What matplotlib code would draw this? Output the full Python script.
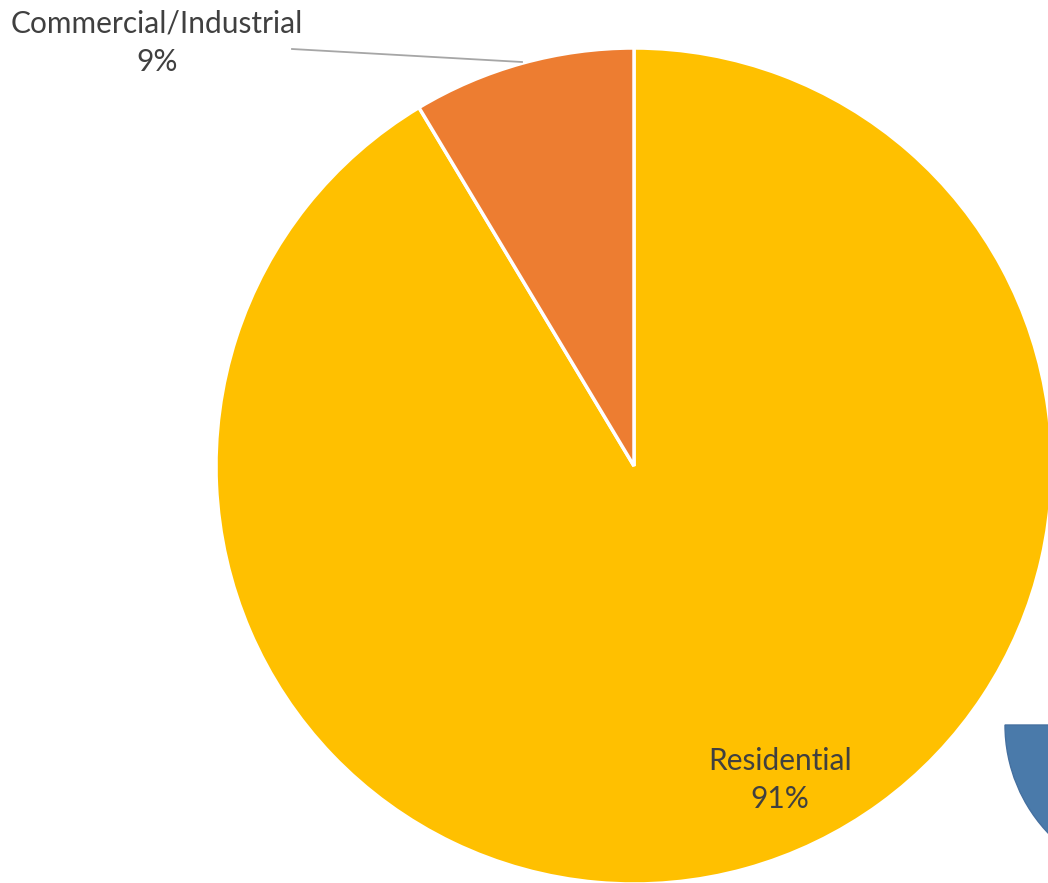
import matplotlib.pyplot as plt
from matplotlib.patches import Wedge

# sector shares (percent)
sectors = ["Residential", "Commercial/Industrial"]
shares = [91.4, 8.6]
colors = ["#FFC000", "#ED7D31"]

W, H = 1048, 883
fig = plt.figure(figsize=(W / 100, H / 100), dpi=100)
ax = fig.add_axes([0, 0, 1, 1])

cx, cy, r = 634, H - 466, 418
ax.pie(shares, colors=colors, startangle=90, counterclock=False,
       center=(cx, cy), radius=r, frame=True,
       wedgeprops=dict(edgecolor="white", linewidth=2.5))
ax.set_xlim(0, W)
ax.set_ylim(0, H)
ax.set_aspect("equal")
ax.axis("off")

# edge of the secondary pie, mostly off the canvas
ax.add_patch(Wedge((1162, H - 725), 157, 180, 270, facecolor="#4A7AAA",
                   edgecolor="#4570A0", linewidth=1))

label_kw = dict(ha="center", va="center", fontsize=21.5, color="#404040",
                family="Lato", linespacing=1.45)
ax.text(157, H - 43, f"{sectors[1]}\n{shares[1]:.0f}%", **label_kw)
ax.text(780, H - 780, f"{sectors[0]}\n{shares[0]:.0f}%", **label_kw)
ax.plot([292, 522], [H - 49, H - 62], color="#A6A6A6", linewidth=1.3)

fig.savefig("out.png", dpi=100)
